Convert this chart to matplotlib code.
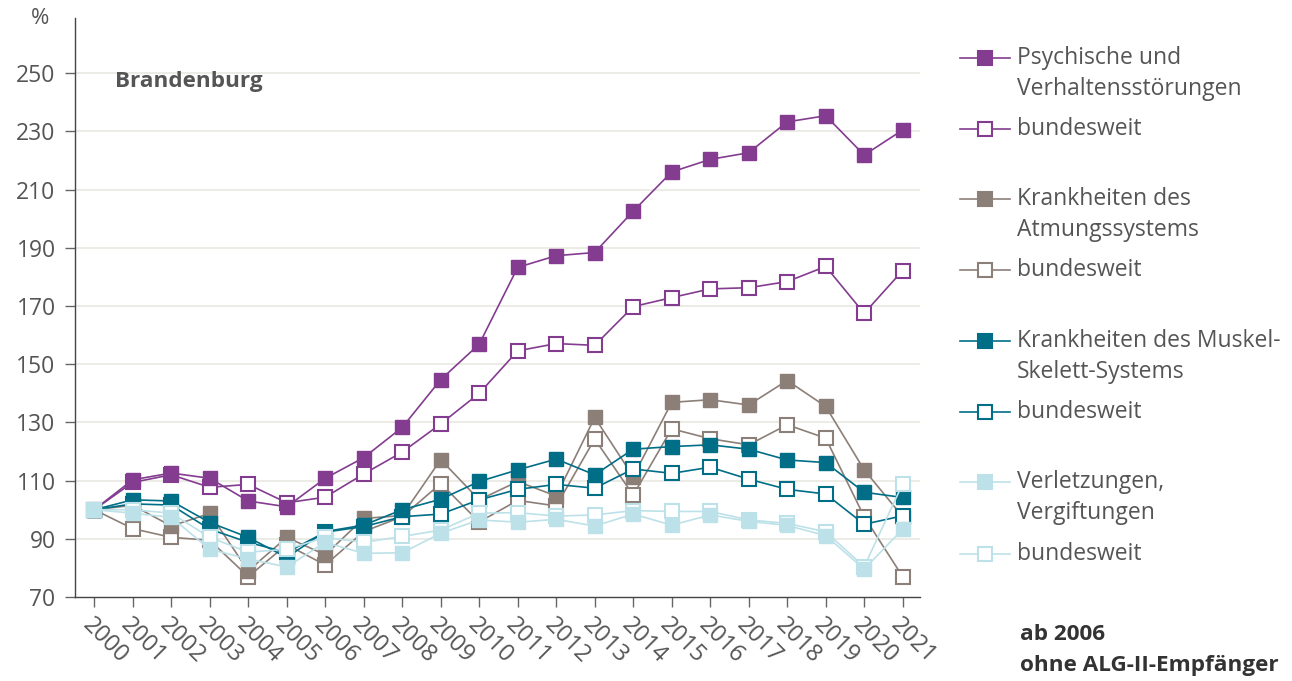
import matplotlib
matplotlib.use("Agg")
import matplotlib.pyplot as plt
from matplotlib.lines import Line2D
import numpy as np

plt.rcParams['font.family'] = ['Open Sans', 'DejaVu Sans']

years = list(range(2000, 2022))

# Brandenburg (filled) and bundesweit (open), index 2000 = 100
psych_bb = [100, 110.3, 112.6, 110.8, 103.0, 101.0, 110.8, 117.9, 128.3, 144.7, 156.9,
            183.3, 187.3, 188.4, 202.6, 216.1, 220.4, 222.7, 233.3, 235.4, 221.9, 230.5]
psych_de = [100, 109.4, 112.0, 107.7, 108.7, 102.4, 104.3, 112.3, 119.8, 129.5, 140.0,
            154.6, 157.1, 156.5, 169.8, 172.9, 175.9, 176.3, 178.4, 183.6, 167.5, 182.2]
atmung_bb = [100, 101.5, 94.4, 98.7, 79.0, 90.5, 84.5, 97.0, 98.0, 117.2, 103.4,
             109.7, 104.7, 131.7, 111.4, 136.9, 137.8, 136.0, 144.4, 135.5, 113.7, 97.6]
atmung_de = [100, 93.5, 90.5, 89.5, 77.0, 88.0, 81.0, 92.5, 97.6, 109.0, 95.8,
             103.2, 101.3, 124.3, 105.0, 127.8, 124.4, 122.3, 129.2, 124.6, 97.6, 77.0]
muskel_bb = [100, 103.4, 103.0, 95.6, 90.5, 83.6, 92.5, 94.7, 100.0, 103.6, 109.7,
             113.7, 117.4, 112.0, 120.8, 121.7, 122.3, 120.8, 117.1, 116.2, 106.0, 104.2]
muskel_de = [100, 102.0, 101.6, 93.3, 88.8, 85.3, 92.3, 94.2, 97.6, 98.5, 103.4,
             107.0, 108.7, 107.4, 114.0, 112.5, 114.6, 110.5, 107.0, 105.4, 95.0, 97.9]
verl_bb = [100, 98.8, 97.4, 86.4, 83.1, 80.3, 88.8, 85.0, 85.2, 91.9, 96.5,
           95.7, 96.7, 94.4, 98.5, 94.7, 98.2, 96.0, 94.6, 91.1, 79.6, 93.3]
verl_de = [100, 100.0, 98.8, 90.5, 85.4, 86.4, 90.5, 88.8, 90.8, 93.0, 98.8,
           99.0, 97.8, 98.2, 99.7, 99.4, 99.4, 96.5, 95.3, 92.4, 80.4, 108.9]

series = [
    ("Psychische und\nVerhaltensstörungen", "#833c8f", psych_bb, psych_de),
    ("Krankheiten des\nAtmungssystems", "#8c7f78", atmung_bb, atmung_de),
    ("Krankheiten des Muskel-\nSkelett-Systems", "#006e87", muskel_bb, muskel_de),
    ("Verletzungen,\nVergiftungen", "#bde1e8", verl_bb, verl_de),
]

W, H = 1292, 681
fig = plt.figure(figsize=(W / 100, H / 100), dpi=100)
ax = fig.add_axes([75 / W, 1 - 597 / H, 845 / W, 579 / H])

x = np.arange(len(years))
for i, (name, col, bb, de) in enumerate(series):
    ax.plot(x, de, color=col, lw=1.2, marker='s', ms=10, mfc='white',
            mec=col, mew=1.5, zorder=3 + 2 * i)
    ax.plot(x, bb, color=col, lw=1.2, marker='s', ms=10, mfc=col,
            mec=col, zorder=4 + 2 * i)

ax.set_xlim(-0.5, 21.45)
ax.set_ylim(70, 269)
ax.set_yticks(np.arange(70, 251, 20))
ax.set_xticks(x)
ax.set_xticklabels([str(y) for y in years], rotation=-45, ha='left', va='top',
                   rotation_mode='anchor')
for y in range(90, 251, 20):
    ax.axhline(y, color='#e9e7e0', lw=1.2, zorder=1)

for s in ['top', 'right']:
    ax.spines[s].set_visible(False)
for s in ['left', 'bottom']:
    ax.spines[s].set_color('#444444')
    ax.spines[s].set_linewidth(1.0)
ax.tick_params(axis='y', length=7, width=1, color='#666666', labelsize=16.5,
               labelcolor='#555555', pad=7)
ax.tick_params(axis='x', length=7, width=1, color='#666666', labelsize=17,
               labelcolor='#555555', pad=5)

fig.text(40 / W, 1 - 18 / H, "%", fontsize=16, color='#555555',
         ha='center', va='center')
fig.text(115 / W, 1 - 81 / H, "Brandenburg", fontsize=16.2, fontweight='bold',
         color='#555555', va='center')

# legend drawn by hand to keep the group spacing
leg_y = [58, 129, 199, 270, 341, 412, 482, 554]
k = 0
for name, col, bb, de in series:
    for label, face in [(name, col), ("bundesweit", 'white')]:
        yy = 1 - leg_y[k] / H
        fig.add_artist(Line2D([960 / W, 1010 / W], [yy, yy], color=col, lw=1.2,
                              transform=fig.transFigure))
        fig.add_artist(Line2D([985 / W], [yy], marker='s', ms=10, mfc=face,
                              mec=col, mew=1.5, transform=fig.transFigure))
        for j, line in enumerate(label.split("\n")):
            fig.text(1017 / W, 1 - (leg_y[k] + 31 * j) / H, line, fontsize=16.5,
                     color='#555555', ha='left', va='center')
        k += 1

fig.text(1020 / W, 1 - 635 / H, "ab 2006", fontsize=16.2, fontweight='bold',
         color='#333333', ha='left', va='center')
fig.text(1020 / W, 1 - 665 / H, "ohne ALG-II-Empfänger", fontsize=16.2,
         fontweight='bold', color='#333333', ha='left', va='center')

fig.savefig("out.png", dpi=100)
